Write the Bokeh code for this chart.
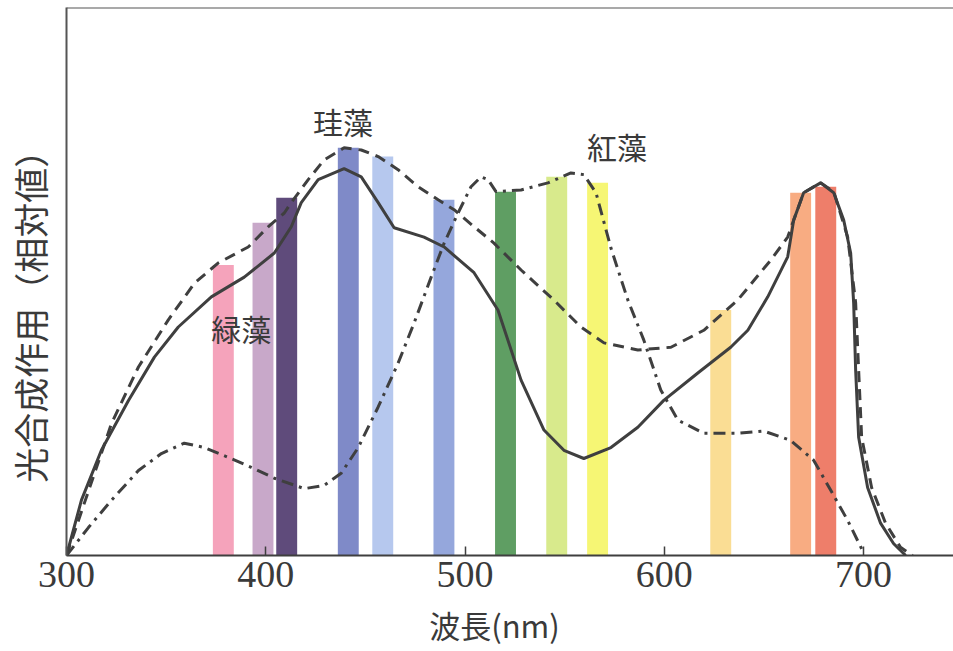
from bokeh.plotting import figure
from bokeh.models import Range1d, FixedTicker, Span, Label
from bokeh.embed import file_html
from bokeh.resources import INLINE

# ---- data ----
x_ticks = [300, 400, 500, 600, 700]

bar_wl = [378.7, 398.6, 410.5, 441.4, 458.7, 489.4, 520.3, 546.0, 566.5, 628.3, 668.4, 681.0]
bar_top = [53.0, 60.7, 65.3, 74.4, 72.8, 64.9, 66.4, 69.1, 68.0, 44.8, 66.2, 67.3]
bar_colors = ["#f5a3bb", "#c8a8c9", "#5f4b7b", "#7f8ac8", "#b6c8ee", "#95a7dc",
              "#5f9e63", "#d8ea8c", "#f6f674", "#fadd94", "#f8ac82", "#ee7e6a"]

# 緑藻 (solid)
green_wl = [300, 307.5, 317.5, 331.1, 344.1, 356.1, 372.7, 389.2, 404.3, 412.8, 417.8, 426.3,
            439.3, 447.9, 456.4, 464.4, 479.4, 489.5, 504.5, 516.5, 528.1, 539.6, 549.6, 559.6,
            573.2, 586.7, 599.7, 616.8, 633.3, 641.9, 651.9, 661.9, 664.9, 669.9, 678.4, 685.0,
            690.0, 693.5, 695.0, 696.0, 697.5, 702.0, 708.5, 715.0, 721.1]
green_val = [0, 10.1, 19.2, 28.3, 36.2, 41.7, 47.2, 50.8, 55.2, 60.0, 64.4, 68.6,
             70.6, 69.1, 64.4, 59.8, 58.1, 56.3, 51.6, 44.8, 32.0, 22.9, 19.2, 17.7,
             19.7, 23.4, 28.3, 33.3, 38.0, 41.1, 47.2, 54.5, 61.2, 66.2, 68.0, 66.2,
             61.2, 55.2, 46.1, 33.8, 21.6, 12.4, 5.9, 2.2, 0]

# 珪藻 (dashed)
diatom_wl = [300, 322.6, 336.1, 351.1, 364.2, 376.2, 391.2, 401.3, 409.3, 412.8, 421.3, 429.3,
             439.3, 447.9, 456.4, 466.4, 476.4, 486.5, 494.5, 504.5, 514.5, 528.1, 544.6, 558.1,
             569.7, 586.7, 603.3, 619.8, 636.8, 653.4, 661.9, 664.9, 669.9, 678.4, 685.0, 692.0,
             696.0, 697.5, 699.0, 704.0, 711.0, 718.5, 724.6]
diatom_val = [0, 24.1, 34.4, 43.0, 49.7, 53.4, 56.3, 60.0, 62.5, 64.4, 68.6, 72.2,
              74.4, 74.0, 72.8, 70.4, 67.3, 64.9, 63.1, 60.0, 57.0, 52.1, 46.6, 41.7,
              38.8, 37.5, 38.0, 41.1, 46.6, 53.9, 58.1, 61.2, 66.2, 68.0, 66.4, 58.1,
              46.1, 33.8, 21.6, 12.4, 5.9, 1.5, 0]

# 紅藻 (dash-dot)
red_wl = [300, 311.0, 322.6, 336.1, 347.6, 359.1, 369.2, 381.2, 392.7, 404.3, 419.3, 429.3,
          437.8, 446.4, 456.4, 466.4, 474.4, 483.0, 489.5, 496.5, 503.0, 508.0, 511.5, 515.5,
          528.1, 541.6, 553.1, 559.6, 565.7, 573.2, 581.7, 589.7, 598.2, 606.8, 619.8, 636.8,
          649.9, 663.4, 674.9, 683.5, 692.0, 700.0]
red_val = [0, 5.1, 10.1, 15.5, 18.6, 20.5, 19.7, 17.9, 16.1, 14.1, 12.2, 12.8,
           15.0, 19.7, 27.1, 35.1, 42.4, 50.8, 57.0, 62.5, 67.3, 69.1, 68.6, 66.4,
           66.7, 68.0, 69.8, 69.5, 66.2, 56.1, 46.6, 39.3, 30.2, 24.7, 22.3, 22.3,
           22.7, 21.0, 17.4, 11.9, 6.4, 0.5]

labels_text = ["珪藻", "紅藻", "緑藻"]
labels_x = [438.8, 576.2, 387.7]
labels_y = [79.2, 74.8, 41.5]

# ---- figure ----
W, H = 953, 651
p = figure(width=W, height=H, output_backend="svg", toolbar_location=None,
           x_range=Range1d(300, 745.1), y_range=Range1d(0, 100),
           min_border_left=65, min_border_right=0, min_border_top=7, min_border_bottom=96)
p.background_fill_color = "white"
p.border_fill_color = "white"
p.outline_line_color = None
p.grid.visible = False

ink = "#3f3f3f"

# bars
p.vbar(x=bar_wl, top=bar_top, bottom=0, width=10.5, fill_color=bar_colors,
       line_color=None)

# curves
lw = 3
p.line(green_wl, green_val, line_color=ink, line_width=lw)
p.line(diatom_wl, diatom_val, line_color=ink, line_width=lw, line_dash="11 7")
p.line(red_wl, red_val, line_color=ink, line_width=lw, line_dash="12 6 3 6")

# frame top line
p.add_layout(Span(location=100, dimension="width", line_color="#555555", line_width=2))

# axes
xa = p.xaxis[0]
xa.ticker = FixedTicker(ticks=x_ticks)
xa.axis_line_color = ink
xa.axis_line_width = 2
xa.major_tick_in = 9
xa.major_tick_out = 0
xa.major_tick_line_color = ink
xa.major_tick_line_width = 1.5
xa.minor_tick_line_color = None
xa.major_label_text_font = "Liberation Serif"
xa.major_label_text_font_size = "38px"
xa.major_label_text_color = "#3a3a3a"
xa.major_label_standoff = 6
xa.axis_label = "波長(nm)\u3000"
xa.axis_label_text_font = "Noto Sans CJK JP"
xa.axis_label_text_font_size = "31px"
xa.axis_label_text_font_style = "normal"
xa.axis_label_text_color = "#3a3a3a"
xa.axis_label_standoff = 12

ya = p.yaxis[0]
ya.ticker = FixedTicker(ticks=[])
ya.axis_line_color = "#555555"
ya.axis_line_width = 2
ya.major_tick_line_color = None
ya.minor_tick_line_color = None
ya.axis_label = "光合成作用（相対値）\u3000\u3000"
ya.axis_label_text_font = "Noto Sans CJK JP"
ya.axis_label_text_font_size = "35px"
ya.axis_label_text_font_style = "normal"
ya.axis_label_text_color = "#3a3a3a"
ya.axis_label_standoff = 12

# series labels
for t, lx, ly in zip(labels_text, labels_x, labels_y):
    p.add_layout(Label(x=lx, y=ly, text=t, text_font="Noto Sans CJK JP",
                       text_font_size="30px", text_color="#3a3a3a",
                       text_align="center", text_baseline="middle"))

open("out.html", "w").write(file_html(p, INLINE))
